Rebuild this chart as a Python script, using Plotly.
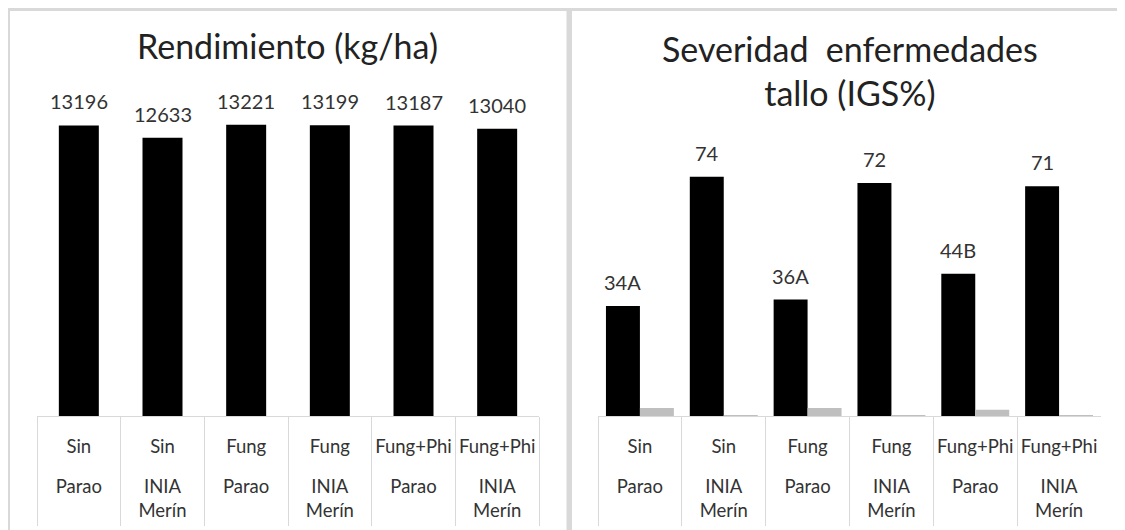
import plotly.graph_objects as go

# ---------------- data ----------------
categories = ["Sin|Parao", "Sin|INIA Merín", "Fung|Parao", "Fung|INIA Merín",
              "Fung+Phi|Parao", "Fung+Phi|INIA Merín"]
tratamientos = ["Sin", "Sin", "Fung", "Fung", "Fung+Phi", "Fung+Phi"]
variedades = ["Parao", "INIA<br>Merín", "Parao", "INIA<br>Merín", "Parao", "INIA<br>Merín"]

rendimiento = [13196, 12633, 13221, 13199, 13187, 13040]
rendimiento_labels = ["13196", "12633", "13221", "13199", "13187", "13040"]

severidad = [34, 74, 36, 72, 44, 71]
severidad_labels = ["34A", "74", "36A", "72", "44B", "71"]
severidad_gris = [2.5, 0.3, 2.5, 0.3, 1.9, 0.3]

# ---------------- layout helpers ----------------
OFF = 8                      # page body margin
W, H = 1125 - OFF, 530 - OFF
FONT = "Lato"
GRID = "#d9d9d9"
TXT = "#333333"


def fx(p):
    return (p - OFF) / W


def fy(p):
    return 1 - (p - OFF) / H


y_dom = [fy(416), fy(100)]
x1_dom = [fx(37), fx(539)]
x2_dom = [fx(598), fx(1101)]
BARGAP = 0.19
half_group = (1 - BARGAP) / 4  # centre offset of each bar in a 2-bar group

fig = go.Figure()
fig.add_trace(go.Bar(x=categories, y=rendimiento, xaxis="x", yaxis="y",
                     width=0.478, marker=dict(color="#000000", line=dict(width=0)),
                     showlegend=False, hoverinfo="skip"))
fig.add_trace(go.Bar(x=categories, y=severidad, xaxis="x2", yaxis="y2",
                     marker=dict(color="#000000", line=dict(width=0)),
                     showlegend=False, hoverinfo="skip"))
fig.add_trace(go.Bar(x=categories, y=severidad_gris, xaxis="x2", yaxis="y2",
                     marker=dict(color="#bfbfbf", line=dict(width=0)),
                     showlegend=False, hoverinfo="skip"))
# dummy traces for overlay label axes
fig.add_trace(go.Scatter(x=[None], y=[None], xaxis="x3", yaxis="y",
                         showlegend=False, hoverinfo="skip"))
fig.add_trace(go.Scatter(x=[None], y=[None], xaxis="x4", yaxis="y2",
                         showlegend=False, hoverinfo="skip"))

TICK_SIZE = 18.5
cat_axis = dict(type="category", categoryorder="array", categoryarray=categories,
                tickmode="array", tickvals=categories, ticktext=tratamientos,
                range=[-0.5, 5.5], ticks="outside", tickson="boundaries",
                ticklen=109, tickcolor=GRID, tickwidth=1, tickangle=0,
                showline=True, linecolor=GRID, linewidth=1,
                showgrid=False, zeroline=False, fixedrange=True,
                ticklabelstandoff=14,
                tickfont=dict(family=FONT, size=TICK_SIZE, color=TXT))
lbl_axis = dict(type="linear", range=[-0.5, 5.5], tickmode="array",
                tickvals=list(range(len(categories))), ticktext=variedades,
                ticks="", showline=False, showgrid=False, zeroline=False,
                ticklabelstandoff=57, fixedrange=True, tickangle=0,
                tickfont=dict(family=FONT, size=TICK_SIZE, color=TXT))

LBL_SIZE = 20
annotations = []
for i, (v, t) in enumerate(zip(rendimiento, rendimiento_labels)):
    annotations.append(dict(x=i, y=v, xref="x", yref="y", text=t, showarrow=False,
                            yanchor="middle", yshift=24,
                            font=dict(family=FONT, size=LBL_SIZE, color=TXT)))
for i, (v, t) in enumerate(zip(severidad, severidad_labels)):
    annotations.append(dict(x=i - half_group, y=v, xref="x2", yref="y2", text=t,
                            showarrow=False, yanchor="middle", yshift=24,
                            font=dict(family=FONT, size=LBL_SIZE, color=TXT)))
TITLE_SIZE = 34
annotations.append(dict(x=fx(287), y=fy(45), xref="paper", yref="paper",
                        text="Rendimiento (kg/ha)", showarrow=False,
                        xanchor="center", yanchor="middle",
                        font=dict(family=FONT, size=TITLE_SIZE, color="#222222")))
annotations.append(dict(x=fx(850), y=fy(70), xref="paper", yref="paper",
                        text="Severidad\u00a0 enfermedades<br>tallo (IGS%)",
                        showarrow=False, xanchor="center", yanchor="middle",
                        font=dict(family=FONT, size=TITLE_SIZE, color="#222222")))

shapes = [
    dict(type="rect", xref="paper", yref="paper", x0=fx(8.5), x1=fx(568), y0=fy(9.5), y1=fy(600),
         line=dict(color=GRID, width=3), fillcolor="rgba(0,0,0,0)", layer="below"),
    dict(type="rect", xref="paper", yref="paper", x0=fx(570.5), x1=fx(1200), y0=fy(9.5), y1=fy(600),
         line=dict(color=GRID, width=3), fillcolor="rgba(0,0,0,0)", layer="below"),
]

fig.update_layout(
    width=W, height=H, margin=dict(l=0, r=0, t=0, b=0),
    paper_bgcolor="white", plot_bgcolor="white",
    barmode="group", bargap=BARGAP, bargroupgap=0,
    xaxis=dict(domain=x1_dom, anchor="y", **cat_axis),
    xaxis2=dict(domain=x2_dom, anchor="y2", **cat_axis),
    xaxis3=dict(overlaying="x", anchor="y", **lbl_axis),
    xaxis4=dict(overlaying="x2", anchor="y2", **lbl_axis),
    yaxis=dict(domain=y_dom, anchor="x", range=[0, 14350], visible=False, fixedrange=True),
    yaxis2=dict(domain=y_dom, anchor="x2", range=[0, 97.7], visible=False, fixedrange=True),
    annotations=annotations, shapes=shapes,
    font=dict(family=FONT, color=TXT),
)

fig.write_html("out.html", config={"displayModeBar": False})
